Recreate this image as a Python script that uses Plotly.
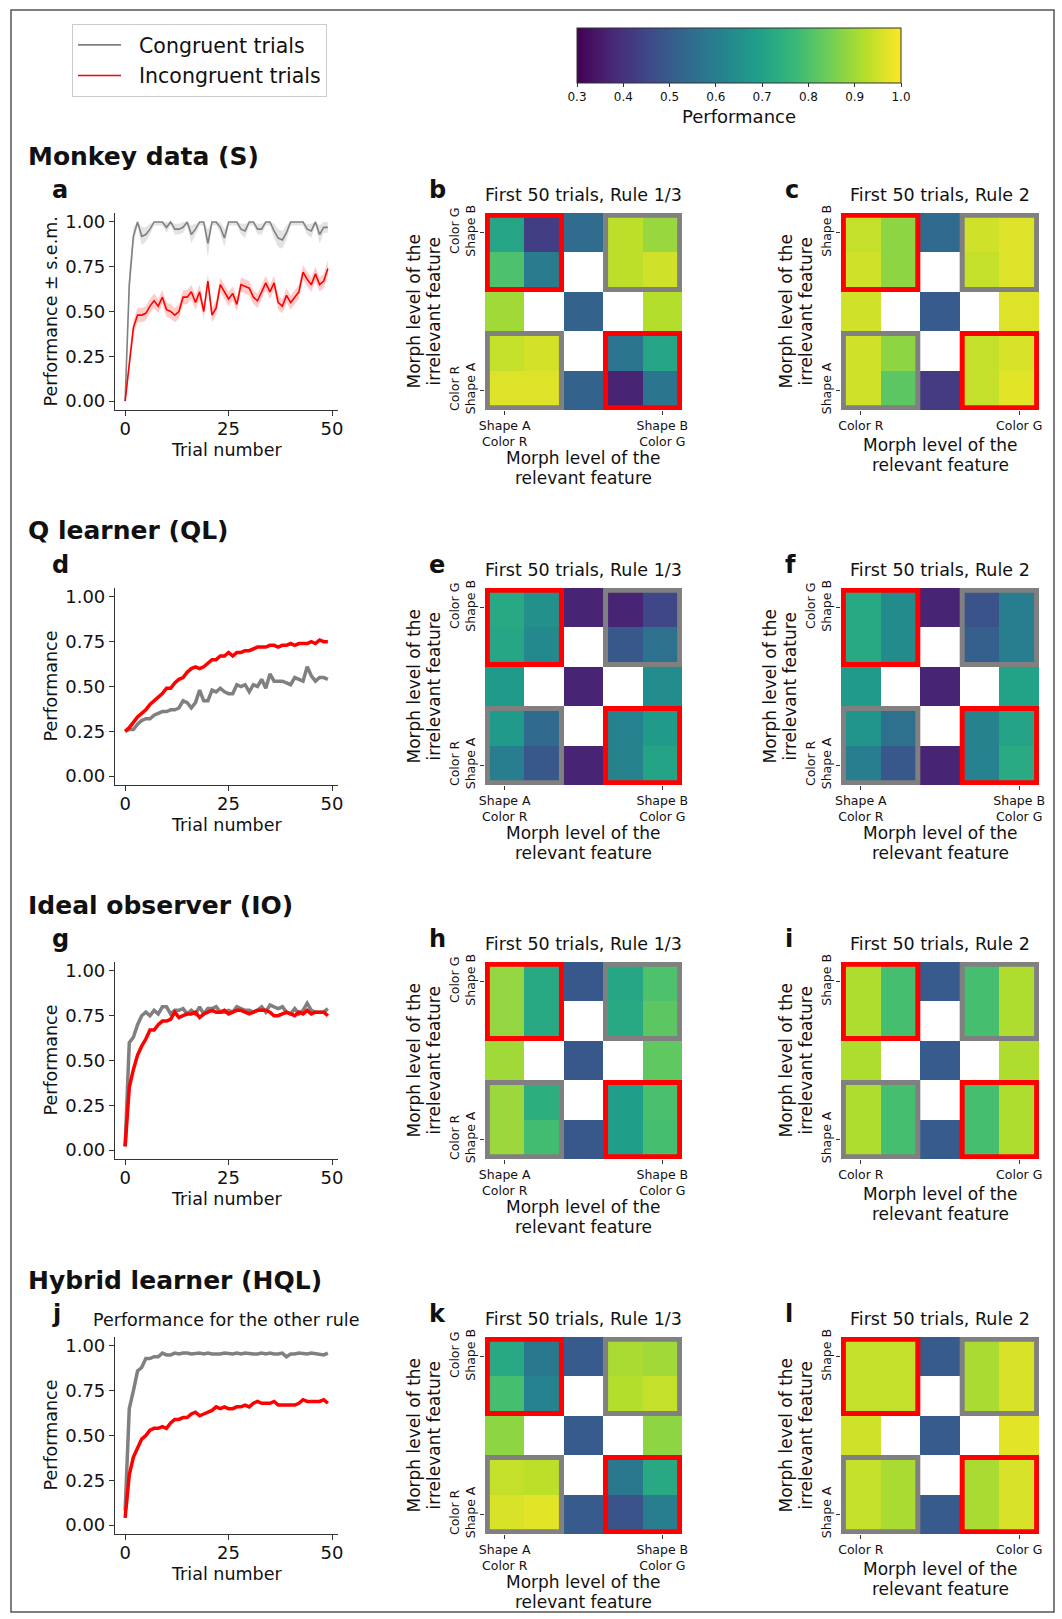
import plotly.graph_objects as go

W, H = 1062, 1619

# ---------------- data ----------------
trials = list(range(50))

a_cong = [0.00, 0.65, 0.92, 1.00, 0.92, 0.93, 0.96, 1.00, 1.00, 1.00,
          0.97, 1.00, 0.96, 0.96, 0.97, 1.00, 0.93, 0.96, 1.00, 1.00,
          0.88, 1.00, 1.00, 0.97, 0.91, 1.00, 1.00, 1.00, 0.96, 0.95,
          1.00, 1.00, 0.96, 0.96, 1.00, 1.00, 0.95, 0.91, 0.90, 0.94,
          1.00, 1.00, 1.00, 1.00, 0.96, 0.95, 1.00, 0.93, 0.97, 0.97]
a_cong_sem = [0.00, 0.08, 0.05, 0.02, 0.05, 0.04, 0.03, 0.02, 0.02, 0.02,
              0.03, 0.02, 0.03, 0.03, 0.03, 0.02, 0.05, 0.03, 0.02, 0.02,
              0.08, 0.02, 0.02, 0.03, 0.05, 0.02, 0.02, 0.02, 0.03, 0.04,
              0.02, 0.02, 0.03, 0.03, 0.02, 0.02, 0.04, 0.05, 0.05, 0.04,
              0.02, 0.02, 0.02, 0.02, 0.03, 0.04, 0.02, 0.05, 0.03, 0.03]
a_incong = [0.00, 0.22, 0.41, 0.48, 0.48, 0.49, 0.53, 0.56, 0.53, 0.58,
            0.51, 0.50, 0.48, 0.50, 0.58, 0.58, 0.61, 0.55, 0.61, 0.50,
            0.67, 0.48, 0.52, 0.65, 0.61, 0.57, 0.60, 0.54, 0.65, 0.64,
            0.63, 0.58, 0.56, 0.61, 0.66, 0.61, 0.66, 0.55, 0.53, 0.59,
            0.55, 0.58, 0.61, 0.72, 0.68, 0.65, 0.71, 0.65, 0.67, 0.74]
a_incong_sem = [0.01, 0.04, 0.04, 0.04, 0.04, 0.04, 0.04, 0.04, 0.04, 0.04,
                0.04, 0.04, 0.04, 0.04, 0.04, 0.04, 0.04, 0.04, 0.04, 0.04,
                0.04, 0.04, 0.04, 0.04, 0.04, 0.04, 0.04, 0.04, 0.04, 0.04,
                0.04, 0.04, 0.04, 0.04, 0.04, 0.04, 0.04, 0.04, 0.04, 0.04,
                0.04, 0.04, 0.04, 0.04, 0.04, 0.04, 0.04, 0.04, 0.04, 0.045]

d_cong = [0.25, 0.26, 0.26, 0.29, 0.31, 0.32, 0.32, 0.34, 0.35, 0.36,
          0.36, 0.37, 0.37, 0.38, 0.42, 0.41, 0.38, 0.41, 0.48, 0.42,
          0.42, 0.48, 0.47, 0.49, 0.47, 0.46, 0.46, 0.51, 0.50, 0.51,
          0.47, 0.51, 0.50, 0.54, 0.49, 0.57, 0.53, 0.53, 0.53, 0.52,
          0.51, 0.55, 0.54, 0.53, 0.61, 0.56, 0.53, 0.55, 0.55, 0.54]
d_incong = [0.25, 0.27, 0.30, 0.33, 0.35, 0.37, 0.40, 0.42, 0.44, 0.46,
            0.49, 0.49, 0.52, 0.54, 0.55, 0.58, 0.60, 0.61, 0.60, 0.61,
            0.63, 0.65, 0.65, 0.67, 0.67, 0.69, 0.67, 0.69, 0.69, 0.70,
            0.70, 0.71, 0.72, 0.72, 0.72, 0.73, 0.73, 0.72, 0.73, 0.73,
            0.74, 0.73, 0.74, 0.74, 0.74, 0.75, 0.74, 0.76, 0.75, 0.75]

g_cong = [0.02, 0.60, 0.63, 0.70, 0.75, 0.77, 0.75, 0.78, 0.76, 0.80,
          0.80, 0.76, 0.78, 0.78, 0.79, 0.76, 0.78, 0.76, 0.80, 0.76,
          0.79, 0.79, 0.80, 0.77, 0.77, 0.78, 0.77, 0.80, 0.79, 0.78,
          0.78, 0.77, 0.78, 0.80, 0.77, 0.81, 0.80, 0.79, 0.80, 0.77,
          0.76, 0.79, 0.76, 0.78, 0.82, 0.78, 0.77, 0.77, 0.77, 0.79]
g_incong = [0.02, 0.35, 0.45, 0.53, 0.58, 0.62, 0.67, 0.67, 0.70, 0.72,
            0.72, 0.73, 0.77, 0.74, 0.75, 0.76, 0.76, 0.77, 0.74, 0.76,
            0.77, 0.78, 0.77, 0.77, 0.78, 0.76, 0.77, 0.78, 0.78, 0.77,
            0.76, 0.77, 0.78, 0.78, 0.78, 0.77, 0.75, 0.75, 0.76, 0.77,
            0.76, 0.75, 0.77, 0.76, 0.78, 0.76, 0.77, 0.77, 0.77, 0.75]

j_cong = [0.08, 0.65, 0.75, 0.86, 0.88, 0.93, 0.93, 0.94, 0.94, 0.96,
          0.95, 0.95, 0.96, 0.955, 0.96, 0.96, 0.955, 0.96, 0.96, 0.955,
          0.96, 0.955, 0.955, 0.955, 0.96, 0.955, 0.955, 0.96, 0.955, 0.96,
          0.955, 0.955, 0.955, 0.96, 0.955, 0.96, 0.955, 0.955, 0.96, 0.94,
          0.955, 0.955, 0.96, 0.955, 0.955, 0.96, 0.955, 0.955, 0.95, 0.96]
j_incong = [0.04, 0.28, 0.38, 0.43, 0.48, 0.50, 0.53, 0.54, 0.54, 0.55,
            0.54, 0.57, 0.59, 0.59, 0.60, 0.60, 0.62, 0.63, 0.61, 0.62,
            0.63, 0.64, 0.66, 0.65, 0.66, 0.65, 0.65, 0.66, 0.66, 0.67,
            0.66, 0.68, 0.69, 0.68, 0.68, 0.68, 0.69, 0.67, 0.67, 0.67,
            0.67, 0.67, 0.68, 0.70, 0.69, 0.69, 0.69, 0.69, 0.70, 0.68]

N = None
hm_b = [[0.71, 0.43, 0.545, 0.93, 0.89],
        [0.80, 0.59, N, 0.93, 0.95],
        [0.90, N, 0.52, N, 0.92],
        [0.94, 0.955, N, 0.575, 0.71],
        [0.965, 0.965, 0.52, 0.37, 0.575]]
hm_c = [[0.94, 0.88, 0.54, 0.95, 0.965],
        [0.95, 0.88, N, 0.94, 0.965],
        [0.95, N, 0.50, N, 0.965],
        [0.95, 0.88, N, 0.94, 0.96],
        [0.95, 0.82, 0.42, 0.94, 0.97]]
hm_e = [[0.72, 0.65, 0.37, 0.37, 0.45],
        [0.715, 0.63, N, 0.49, 0.56],
        [0.68, N, 0.37, N, 0.64],
        [0.68, 0.54, N, 0.61, 0.68],
        [0.60, 0.49, 0.37, 0.615, 0.705]]
hm_f = [[0.72, 0.635, 0.37, 0.48, 0.60],
        [0.72, 0.635, N, 0.51, 0.60],
        [0.68, N, 0.37, N, 0.70],
        [0.665, 0.56, N, 0.615, 0.705],
        [0.60, 0.49, 0.37, 0.61, 0.725]]
hm_h = [[0.885, 0.72, 0.49, 0.715, 0.80],
        [0.885, 0.72, N, 0.72, 0.82],
        [0.90, N, 0.49, N, 0.825],
        [0.895, 0.74, N, 0.69, 0.795],
        [0.895, 0.785, 0.49, 0.69, 0.79]]
hm_i = [[0.915, 0.79, 0.50, 0.79, 0.915],
        [0.915, 0.79, N, 0.79, 0.915],
        [0.915, N, 0.50, N, 0.915],
        [0.915, 0.79, N, 0.79, 0.915],
        [0.915, 0.79, 0.50, 0.79, 0.915]]
hm_k = [[0.72, 0.58, 0.50, 0.91, 0.90],
        [0.79, 0.61, N, 0.92, 0.94],
        [0.88, N, 0.50, N, 0.88],
        [0.94, 0.93, N, 0.58, 0.72],
        [0.96, 0.97, 0.50, 0.48, 0.60]]
hm_l = [[0.94, 0.94, 0.50, 0.91, 0.96],
        [0.94, 0.94, N, 0.91, 0.96],
        [0.95, N, 0.50, N, 0.97],
        [0.94, 0.91, N, 0.91, 0.96],
        [0.94, 0.91, 0.50, 0.91, 0.96]]

cells = [0, 1, 2, 3, 4]
perf_ticks = [0.0, 0.25, 0.5, 0.75, 1.0]
perf_labels = ["0.00", "0.25", "0.50", "0.75", "1.00"]
trial_ticks = [0, 25, 50]
cbar_ticks = [0.3, 0.4, 0.5, 0.6, 0.7, 0.8, 0.9, 1.0]
cbar_labels = ["0.3", "0.4", "0.5", "0.6", "0.7", "0.8", "0.9", "1.0"]

x_lab_13 = ["Shape A<br>Color R", "Shape B<br>Color G"]
y_lab_13 = ["Color G<br>Shape B", "Color R<br>Shape A"]
x_lab_2 = ["Color R", "Color G"]
y_lab_2 = ["Shape B", "Shape A"]

section_titles = ["Monkey data (S)", "Q learner (QL)", "Ideal observer (IO)", "Hybrid learner (HQL)"]
letters = [["a", "b", "c"], ["d", "e", "f"], ["g", "h", "i"], ["j", "k", "l"]]
line_data = [(a_cong, a_incong), (d_cong, d_incong), (g_cong, g_incong), (j_cong, j_incong)]
heat_data = [(hm_b, hm_c), (hm_e, hm_f), (hm_h, hm_i), (hm_k, hm_l)]
heat_titles = ["First 50 trials, Rule 1/3", "First 50 trials, Rule 2"]
heat_labels = [[(x_lab_13, y_lab_13), (x_lab_2, y_lab_2)],
               [(x_lab_13, y_lab_13), (x_lab_13, y_lab_13)],
               [(x_lab_13, y_lab_13), (x_lab_2, y_lab_2)],
               [(x_lab_13, y_lab_13), (x_lab_2, y_lab_2)]]
xtitle_lines = ["Morph level of the", "relevant feature"]
ytitle_lines = ["Morph level of the", "irrelevant feature"]

GRAY = "#808080"
RED = "#ff0000"
FONT = "DejaVu Sans"
TXT = "#111111"

# ---------------- layout geometry (pixels) ----------------
ROW_TOP = [213, 588, 962, 1337]
SIZE = 197
LINE_X = (115, 338)
HM_X = [(485, 682), (841, 1039)]


def fx(p):
    return p / W


def fy(p):
    return 1 - p / H


fig = go.Figure()
layout = dict(
    width=W, height=H, margin=dict(l=0, r=0, t=0, b=0),
    paper_bgcolor="white", plot_bgcolor="white", template="none",
    font=dict(family=FONT, color=TXT),
    showlegend=True,
)
annotations = []
shapes = []


def ann(text, x, y, size, angle=0, xanchor="center", yanchor="middle"):
    annotations.append(dict(text=text, x=fx(x), y=fy(y), xref="paper", yref="paper",
                            showarrow=False, textangle=angle, xanchor=xanchor,
                            yanchor=yanchor, font=dict(size=size, family=FONT, color=TXT)))


def axname(i):
    return ("", "") if i == 1 else (str(i), str(i))


for r in range(4):
    T = ROW_TOP[r]
    ydom = [fy(T + SIZE), fy(T)]
    # ---- line plot ----
    i = r * 3 + 1
    sx, sy = axname(i)
    cong, incong = line_data[r]
    lw = 1.6 if r == 0 else 3.5
    if r == 0:
        hi_c = [min(m + s, 1.0) for m, s in zip(a_cong, a_cong_sem)]
        lo_c = [m - s for m, s in zip(a_cong, a_cong_sem)]
        hi_r = [m + s for m, s in zip(a_incong, a_incong_sem)]
        lo_r = [m - s for m, s in zip(a_incong, a_incong_sem)]
        fig.add_trace(go.Scatter(x=trials + trials[::-1], y=hi_c + lo_c[::-1], fill="toself",
                                 fillcolor="rgba(128,128,128,0.22)", line=dict(width=0),
                                 mode="lines", showlegend=False, hoverinfo="skip",
                                 xaxis="x" + sx, yaxis="y" + sy))
        fig.add_trace(go.Scatter(x=trials + trials[::-1], y=hi_r + lo_r[::-1], fill="toself",
                                 fillcolor="rgba(255,0,0,0.2)", line=dict(width=0),
                                 mode="lines", showlegend=False, hoverinfo="skip",
                                 xaxis="x" + sx, yaxis="y" + sy))
    fig.add_trace(go.Scatter(x=trials, y=cong, mode="lines", line=dict(color=GRAY, width=lw),
                             name="\u00a0\u00a0Congruent trials", showlegend=(r == 0),
                             legendgroup="g1", xaxis="x" + sx, yaxis="y" + sy))
    fig.add_trace(go.Scatter(x=trials, y=incong, mode="lines", line=dict(color=RED, width=lw),
                             name="\u00a0\u00a0Incongruent trials", showlegend=(r == 0),
                             legendgroup="g2", xaxis="x" + sx, yaxis="y" + sy))
    common = dict(showline=True, linecolor="#333", linewidth=1.2, ticks="outside", ticklen=5,
                  tickwidth=1.2, tickcolor="#333", showgrid=False, zeroline=False,
                  tickfont=dict(size=18, family=FONT, color=TXT))
    layout["xaxis" + sx] = dict(domain=[fx(LINE_X[0]), fx(LINE_X[1])], range=[-2.45, 51.45],
                                tickvals=trial_ticks, anchor="y" + sy, ticklabelstandoff=-3,
                                **common)
    layout["yaxis" + sy] = dict(domain=ydom, range=[-0.05, 1.05], tickvals=perf_ticks,
                                ticktext=perf_labels, anchor="x" + sx, **common)
    ann("Trial number", (LINE_X[0] + LINE_X[1]) / 2, T + 237, 17.5)
    ann("Performance ± s.e.m." if r == 0 else "Performance", 50, T + SIZE / 2, 17.5, angle=-90)
    ann("<b>" + section_titles[r] + "</b>", 26, T - 57, 25, xanchor="left")
    ann("<b>" + letters[r][0] + "</b>", 50, T - 23, 24, xanchor="left")
    if r == 3:
        ann("Performance for the other rule", 226, T - 17, 17.5)

    # ---- heatmaps ----
    for c in range(2):
        i = r * 3 + 2 + c
        sx, sy = axname(i)
        z = heat_data[r][c]
        xl, yl = heat_labels[r][c]
        two_line = len(xl[0].split("<br>")) > 1
        x0, x1 = HM_X[c]
        fig.add_trace(go.Heatmap(z=z, x=cells, y=cells, coloraxis="coloraxis",
                                 hoverinfo="skip", xaxis="x" + sx, yaxis="y" + sy))
        hcommon = dict(showline=False, ticks="outside", ticklen=4, tickwidth=1, tickcolor="#333",
                       showgrid=False, zeroline=False,
                       tickfont=dict(size=12.5, family=FONT, color=TXT))
        layout["xaxis" + sx] = dict(domain=[fx(x0), fx(x1)], range=[-0.5, 4.5], tickvals=[0, 4],
                                    ticktext=xl, anchor="y" + sy, **hcommon)
        layout["yaxis" + sy] = dict(domain=ydom, range=[4.5, -0.5], tickvals=[0, 4],
                                    ticktext=yl, tickangle=-90, anchor="x" + sx, **hcommon)
        cx = (x0 + x1) / 2
        ann(heat_titles[c], cx, T - 18, 17.5)
        ann("<b>" + letters[r][1 + c] + "</b>", x0 - 58, T - 23, 24, xanchor="left")
        xt0 = T + (245 if two_line else 232)
        ann(xtitle_lines[0], cx, xt0, 17)
        ann(xtitle_lines[1], cx, xt0 + 20, 17)
        ylab_two = len(yl[0].split("<br>")) > 1
        ycx = x0 - (62 if ylab_two else 46)
        ann(ytitle_lines[0], ycx - 10, T + SIZE / 2, 17, angle=-90)
        ann(ytitle_lines[1], ycx + 10, T + SIZE / 2, 17, angle=-90)
        # congruent / incongruent block outlines
        ins = 0.06
        blocks = [(0, 0, RED), (3, 0, GRAY), (0, 3, GRAY), (3, 3, RED)]
        for bx, by, col in blocks:
            shapes.append(dict(type="rect", xref="x" + sx, yref="y" + sy,
                               x0=bx - 0.5 + ins, x1=bx + 1.5 - ins,
                               y0=by - 0.5 + ins, y1=by + 1.5 - ins,
                               line=dict(color=col, width=5), fillcolor="rgba(0,0,0,0)"))

# figure frame
shapes.append(dict(type="rect", xref="paper", yref="paper", x0=fx(11), x1=fx(1054),
                   y0=fy(1612), y1=fy(10), line=dict(color="#555", width=1.5)))

layout["coloraxis"] = dict(
    colorscale="Viridis", cmin=0.3, cmax=1.0,
    colorbar=dict(orientation="h", x=fx(577), xanchor="left", y=fy(28), yanchor="top",
                  len=324 / W, lenmode="fraction", thickness=55, thicknessmode="pixels",
                  tickvals=cbar_ticks, ticktext=cbar_labels, ticks="outside", ticklen=4,
                  tickcolor="#333", tickfont=dict(size=12, family=FONT, color=TXT),
                  title=dict(text="Performance", side="bottom",
                             font=dict(size=18, family=FONT, color=TXT)),
                  outlinewidth=1, outlinecolor="#333", xpad=0, ypad=0))
layout["legend"] = dict(x=fx(72), y=fy(24), xanchor="left", yanchor="top",
                        bordercolor="#cccccc", borderwidth=1, bgcolor="white",
                        font=dict(size=20.5, family=FONT, color=TXT), itemwidth=43,
                        tracegroupgap=1, traceorder="grouped")
layout["annotations"] = annotations
layout["shapes"] = shapes
fig.update_layout(**layout)
fig.write_html("out.html", config={"displayModeBar": False},
               post_script="document.body.style.margin='0';document.body.style.overflow='hidden';")
